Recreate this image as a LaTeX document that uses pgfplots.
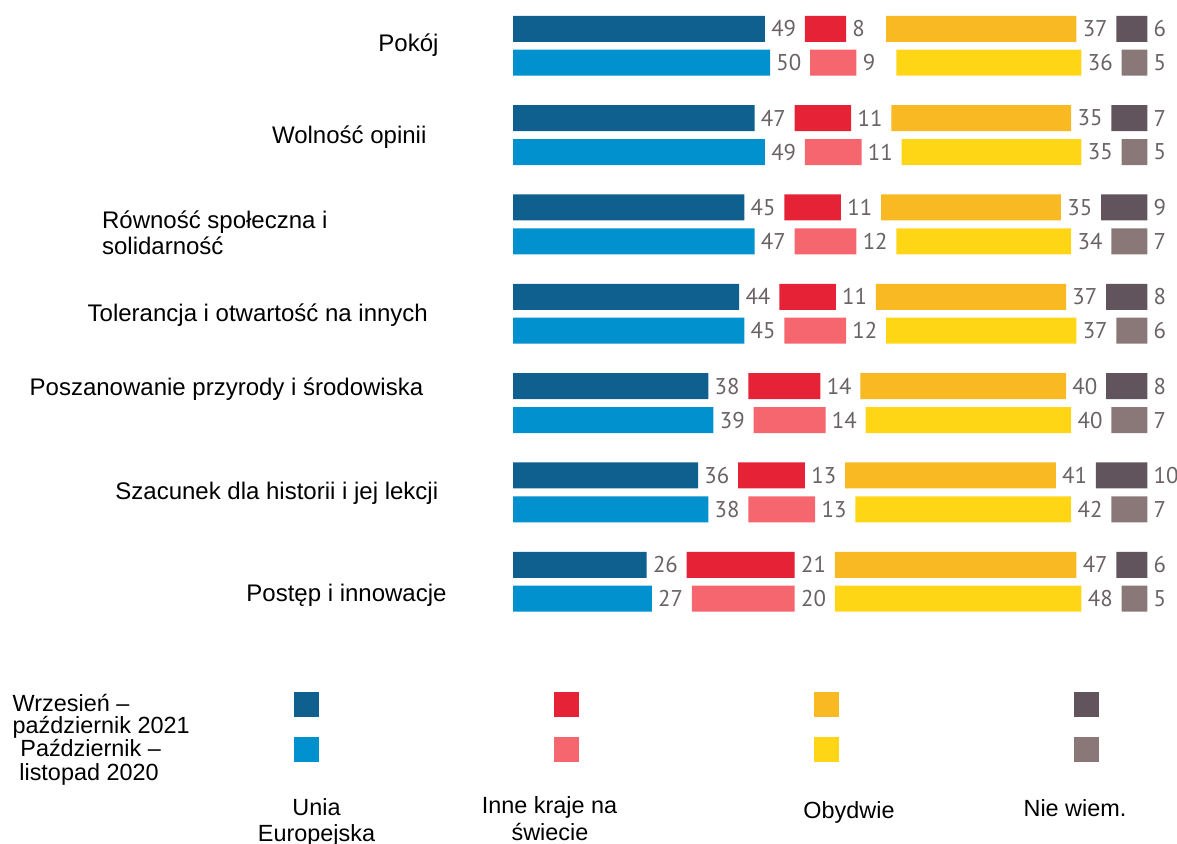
\documentclass[border=0pt]{standalone}
\usepackage{pgfplots}
\pgfplotsset{compat=1.18}
\usepackage{pgfplotstable}
\usepackage{fontspec}
\setmainfont{Liberation Sans}
\newfontfamily\numfont{PT Sans}
\definecolor{blueA}{HTML}{0F5F8F}
\definecolor{blueB}{HTML}{0091CE}
\definecolor{redA}{HTML}{E52236}
\definecolor{redB}{HTML}{F6666F}
\definecolor{yelA}{HTML}{F9B923}
\definecolor{yelB}{HTML}{FFD616}
\definecolor{grayA}{HTML}{62545C}
\definecolor{grayB}{HTML}{8A7878}
\definecolor{numgray}{HTML}{6B6266}
\newcommand{\lab}{\fontsize{11.7}{13}\selectfont}
\newcommand{\cat}{\fontsize{12}{13}\selectfont}
\newcommand{\num}{\fontsize{11.4}{13}\numfont}

% 2021 (September - October)
\pgfplotstableread{
y    ue ik ob nw gap
6.19 49  8 37  6 7.8
5.19 47 11 35  7 7.8
4.19 45 11 35  9 7.8
3.19 44 11 37  8 7.8
2.19 38 14 40  8 7.8
1.19 36 13 41 10 7.8
0.19 26 21 47  6 7.8
}\datA
% 2020 (October - November)
\pgfplotstableread{
y    ue ik ob nw gap
5.81 50  9 36  5 7.8
4.81 49 11 35  5 7.8
3.81 47 12 34  7 7.8
2.81 45 12 37  6 7.8
1.81 39 14 40  7 7.8
0.81 38 13 42  7 7.8
-0.19 27 20 48  5 7.8
}\datB

\pgfplotsset{
  rowaxis/.style={
    hide axis, scale only axis,
    width=323.82pt, height=312.66pt,
    xmin=0, xmax=126, ymin=-0.5, ymax=6.5,
    xbar stacked, bar width=13pt, clip=false,
    at={(256.5pt,-313.2pt)}, anchor=south west,
    /pgf/number format/assume math mode=true,
  },
  seg/.style={fill=#1, draw=none, forget plot,
    visualization depends on={rawx \as \segval},
    nodes near coords,
    every node near coord/.append style={anchor=west, inner sep=0pt,
      xshift={1.285pt*\segval+3pt}, font=\num, text=numgray}},
  gapseg/.style={fill=none, draw=none, forget plot},
  swatch/.style={legend image code/.code={\fill[##1] (0pt,-6.25pt) rectangle (12.5pt,6.25pt);}},
}

\begin{document}
\begin{tikzpicture}
\begin{axis}[rowaxis,
  legend columns=4,
  legend style={at={(-0.3382,-0.1041)}, anchor=north west, draw=none, fill=none,
    inner sep=0pt, outer sep=0pt, column sep=58.25pt, row sep=10pt,
    nodes={inner sep=0pt, outer sep=0pt}},
]
\addplot[seg=blueA] table[x=ue,y=y] {\datA};
\addplot[gapseg] table[x=gap,y=y] {\datA};
\addplot[seg=redA] table[x=ik,y=y] {\datA};
\addplot[gapseg] table[x=gap,y=y] {\datA};
\addplot[seg=yelA] table[x=ob,y=y] {\datA};
\addplot[gapseg] table[x=gap,y=y] {\datA};
\addplot[seg=grayA] table[x=nw,y=y] {\datA};
\addlegendimage{swatch, fill=blueA, draw=none}\addlegendentry{\hspace{0pt}}
\addlegendimage{swatch, fill=redA, draw=none}\addlegendentry{\hspace{0pt}}
\addlegendimage{swatch, fill=yelA, draw=none}\addlegendentry{\hspace{0pt}}
\addlegendimage{swatch, fill=grayA, draw=none}\addlegendentry{\hspace{0pt}}
\addlegendimage{swatch, fill=blueB, draw=none}\addlegendentry{\hspace{0pt}}
\addlegendimage{swatch, fill=redB, draw=none}\addlegendentry{\hspace{0pt}}
\addlegendimage{swatch, fill=yelB, draw=none}\addlegendentry{\hspace{0pt}}
\addlegendimage{swatch, fill=grayB, draw=none}\addlegendentry{\hspace{0pt}}
\end{axis}
\begin{axis}[rowaxis]
\addplot[seg=blueB] table[x=ue,y=y] {\datB};
\addplot[gapseg] table[x=gap,y=y] {\datB};
\addplot[seg=redB] table[x=ik,y=y] {\datB};
\addplot[gapseg] table[x=gap,y=y] {\datB};
\addplot[seg=yelB] table[x=ob,y=y] {\datB};
\addplot[gapseg] table[x=gap,y=y] {\datB};
\addplot[seg=grayB] table[x=nw,y=y] {\datB};
\end{axis}
\begin{scope}[x=0.5pt,y=-0.5pt]
\path[every node/.style={font=\cat, inner sep=0pt, anchor=base west}]
  (378,51.7) node {Pokój}
  (271.7,143.3) node {Wolność opinii}
  (101.7,228.3) node {Równość społeczna i}
  (101.7,254) node {solidarność}
  (87.3,321.7) node {Tolerancja i otwartość na innych}
  (29.3,395.7) node {Poszanowanie przyrody i środowiska}
  (115,499.3) node {Szacunek dla historii i jej lekcji}
  (246,601.7) node {Postęp i innowacje};
\path[every node/.style={font=\lab, inner sep=0pt, anchor=base west}]
  (12.3,711.7) node {Wrzesień –}
  (12.3,733.3) node {październik 2021}
  (20,756) node {Październik –}
  (19,780) node {listopad 2020};
\path[every node/.style={font=\lab, inner sep=0pt, anchor=base}]
  (316.5,815) node {Unia}
  (316.5,841) node {Europejska}
  (549.5,813.5) node {Inne kraje na}
  (550,840) node {świecie}
  (849,818) node {Obydwie}
  (1075,816) node {Nie wiem.};
\pgfresetboundingbox
\useasboundingbox (0,0) rectangle (1177,843);
\end{scope}
\end{tikzpicture}
\end{document}
